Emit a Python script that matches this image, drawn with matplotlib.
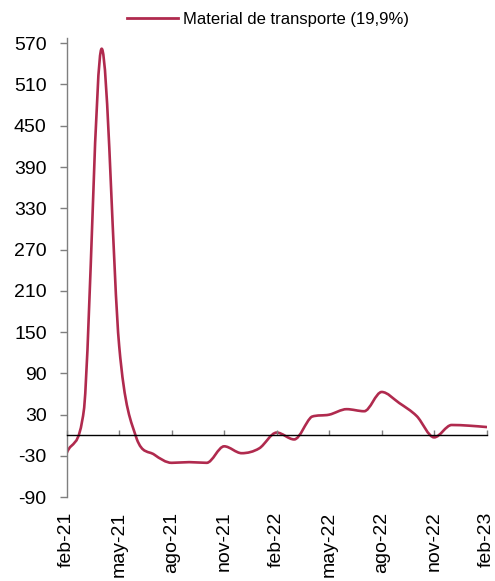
import matplotlib
matplotlib.use("Agg")
import matplotlib.pyplot as plt
import numpy as np
from matplotlib.path import Path
from matplotlib.patches import PathPatch
from matplotlib.lines import Line2D

plt.rcParams['font.family'] = ['Liberation Sans', 'DejaVu Sans']

months = ['feb-21', 'mar-21', 'abr-21', 'may-21', 'jun-21', 'jul-21', 'ago-21',
          'sep-21', 'oct-21', 'nov-21', 'dic-21', 'ene-22', 'feb-22', 'mar-22',
          'abr-22', 'may-22', 'jun-22', 'jul-22', 'ago-22', 'sep-22', 'oct-22',
          'nov-22', 'dic-22', 'ene-23', 'feb-23']
values = [-26, 40, 562, 130, -5, -28, -40, -39, -40, -16, -26, -19, 4, -6,
          27, 30, 38, 35, 63, 47, 28, -3, 15, 14, 12]
series_label = 'Material de transporte (19,9%)'
yticks = [-90, -30, 30, 90, 150, 210, 270, 330, 390, 450, 510, 570]

color = '#B02A4E'

fig = plt.figure(figsize=(4.95, 5.81), dpi=100)
ax = fig.add_axes([0.1347, 0.1442, 0.8485, 0.7909])

# smoothed line: Bezier segments through the monthly points
x = np.arange(len(values), dtype=float)
y = np.array(values, dtype=float)
n = len(x)
slopes = np.zeros(n)
for i in range(n):
    if i == 0:
        slopes[i] = y[1] - y[0]
    elif i == n - 1:
        slopes[i] = y[-1] - y[-2]
    else:
        if (y[i] - y[i - 1]) * (y[i + 1] - y[i]) <= 0:
            slopes[i] = 0.0
        else:
            slopes[i] = (y[i + 1] - y[i - 1]) / 2
verts = [(x[0], y[0])]
codes = [Path.MOVETO]
for i in range(n - 1):
    lo, hi = min(y[i], y[i + 1]), max(y[i], y[i + 1])
    c1y = np.clip(y[i] + slopes[i] / 3, lo, hi)
    c2y = np.clip(y[i + 1] - slopes[i + 1] / 3, lo, hi)
    verts += [(x[i] + 1 / 3, c1y), (x[i + 1] - 1 / 3, c2y), (x[i + 1], y[i + 1])]
    codes += [Path.CURVE4] * 3
patch = PathPatch(Path(verts, codes), facecolor='none', edgecolor=color,
                  lw=1.9, transform=ax.transData, capstyle='round', joinstyle='round')
ax.add_patch(patch)

ax.set_xlim(0, len(values) - 1)
ax.set_ylim(-90, 578)

ax.set_yticks(yticks)
ax.set_yticklabels([str(v) for v in yticks])
tick_pos = list(range(0, len(months), 3))
ax.set_xticks(tick_pos)
ax.set_xticklabels([months[i] for i in tick_pos])

for s in ['top', 'right']:
    ax.spines[s].set_visible(False)
ax.spines['bottom'].set_position(('data', 0))
ax.spines['bottom'].set_color('black')
ax.spines['bottom'].set_linewidth(1.0)
ax.spines['left'].set_color('#7f7f7f')
ax.spines['left'].set_linewidth(1.0)

ax.tick_params(axis='y', direction='out', length=4.8, width=1.0, color='#7f7f7f',
               labelsize=14, pad=9.6)
ax.tick_params(axis='x', direction='in', length=3.8, width=1.0, color='#7f7f7f',
               labelsize=14, pad=55, labelrotation=90)
for lbl in ax.get_xticklabels():
    lbl.set_va('top')
    lbl.set_ha('center')

handle = Line2D([], [], color=color, lw=2.0)
fig.legend(handles=[handle], labels=[series_label], loc='center',
           bbox_to_anchor=(268 / 495, 1 - 19.5 / 581), frameon=False,
           fontsize=12, handlelength=3.1, handletextpad=0.3)

fig.savefig('out.png', dpi=100)
